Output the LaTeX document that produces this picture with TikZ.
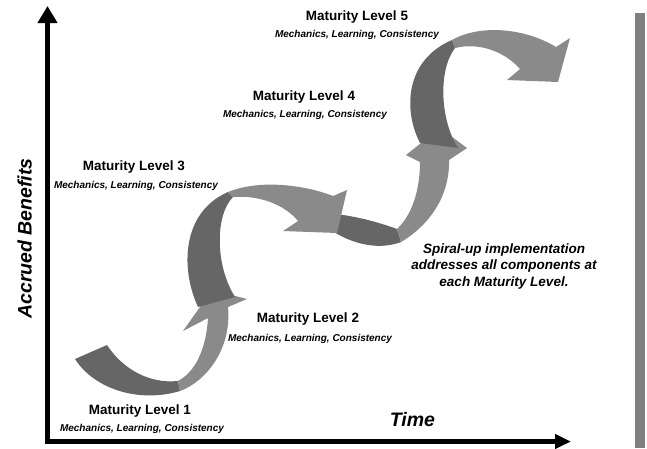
\documentclass[tikz,border=0pt]{standalone}
\usepackage{fontspec}
\setmainfont{Liberation Sans}
\usetikzlibrary{arrows.meta}
\definecolor{ribbondark}{RGB}{102,102,102}
\definecolor{ribbonlight}{RGB}{138,138,138}
\definecolor{sidebar}{RGB}{128,128,128}
\begin{document}
\begin{tikzpicture}[x=1pt,y=-1pt,
  darkband/.style={fill=ribbondark},
  lightband/.style={fill=ribbonlight},
  axisline/.style={line width=5pt},
  heading/.style={anchor=base,inner sep=0pt,font=\fontsize{13.5}{16}\selectfont\bfseries},
  subline/.style={anchor=base,inner sep=0pt,font=\fontsize{10}{12}\selectfont\bfseries\itshape},
  note/.style={align=center,inner sep=0pt,font=\fontsize{13.5}{16.5}\selectfont\bfseries\itshape},
  axislabel/.style={inner sep=0pt,font=\fontsize{19.5}{22}\selectfont\bfseries\itshape}]
\useasboundingbox (0,0) rectangle (647,448);

% grey bar on the right
\fill[sidebar] (635,12.7) rectangle (645,448);

% spiral ribbon, level 1 -> 2 (U turn)
\fill[darkband] (75,359) -- (107,345) .. controls (122,368) and (148,384) .. (178,381)
  -- (180,391) .. controls (140,403) and (95,390) .. (75,359) -- cycle;
\fill[lightband] (178,381) -- (180,391) .. controls (205,382) and (232,350) .. (228,307)
  -- (247,299) -- (212,290) -- (183,331) -- (208,318)
  .. controls (206,350) and (195,372) .. (178,381) -- cycle;
% level 2 -> 3 (rising turn)
\fill[darkband] (198,307) .. controls (180,268) and (182,212) .. (228,192) -- (233,197)
  .. controls (215,215) and (215,265) .. (235,297) -- cycle;
\fill[darkband] (335,214) .. controls (355,216) and (378,222) .. (397,229) -- (401,242)
  .. controls (380,250) and (355,245) .. (334,232) -- cycle;
\fill[lightband] (228,192) .. controls (260,179) and (305,185) .. (333,196)
  -- (347,190) -- (337,233) -- (283,231) -- (298,221)
  .. controls (285,205) and (260,195) .. (233,197) -- cycle;
% level 3 -> 4 (U turn)
\fill[lightband] (397,229) -- (401,242) .. controls (425,228) and (450,200) .. (449,160)
  -- (467,148) -- (440,128) -- (406,155) -- (420,162)
  .. controls (420,190) and (412,215) .. (397,229) -- cycle;
% level 4 -> 5 (rising turn)
\fill[darkband] (420,143) .. controls (403,110) and (405,60) .. (452,40) -- (455,48)
  .. controls (438,70) and (440,120) .. (458,148) -- cycle;
\fill[lightband] (452,40) .. controls (480,24) and (525,28) .. (556,47)
  -- (570,38) -- (558,82) -- (507,80) -- (520,69)
  .. controls (505,52) and (480,42) .. (455,48) -- cycle;

% axes
\coordinate (ytop) at (47.5,6);
\coordinate (xend) at (571,441.5);
\coordinate (ybottom) at (47.5,444);
\coordinate (xstart) at (45,441.5);
\draw[axisline,-{Triangle[length=17pt,width=19pt]}] (ybottom) -- (ytop);
\draw[axisline,-{Triangle[length=16pt,width=14pt]}] (xstart) -- (xend);

\node[axislabel,rotate=90,anchor=base] (benefits) at (31.7,238.5) {Accrued Benefits};
\node[axislabel,anchor=base] (time) at (412.5,426) {Time};

% maturity levels
\node[heading] (lvlone) at (140,414) {Maturity Level 1};
\node[subline] (lvlonesub) at (142,431) {Mechanics, Learning, Consistency};
\node[heading] (lvltwo) at (308,322) {Maturity Level 2};
\node[subline] (lvltwosub) at (310,341) {Mechanics, Learning, Consistency};
\node[heading] (lvlthree) at (134,170) {Maturity Level 3};
\node[subline] (lvlthreesub) at (136,188) {Mechanics, Learning, Consistency};
\node[heading] (lvlfour) at (304,100) {Maturity Level 4};
\node[subline] (lvlfoursub) at (305,117.5) {Mechanics, Learning, Consistency};
\node[heading] (lvlfive) at (357,20.5) {Maturity Level 5};
\node[subline] (lvlfivesub) at (357,37) {Mechanics, Learning, Consistency};

\node[note] (spiral) at (504,266.5) {Spiral-up implementation\\addresses all components at\\each Maturity Level.};
\end{tikzpicture}
\end{document}
